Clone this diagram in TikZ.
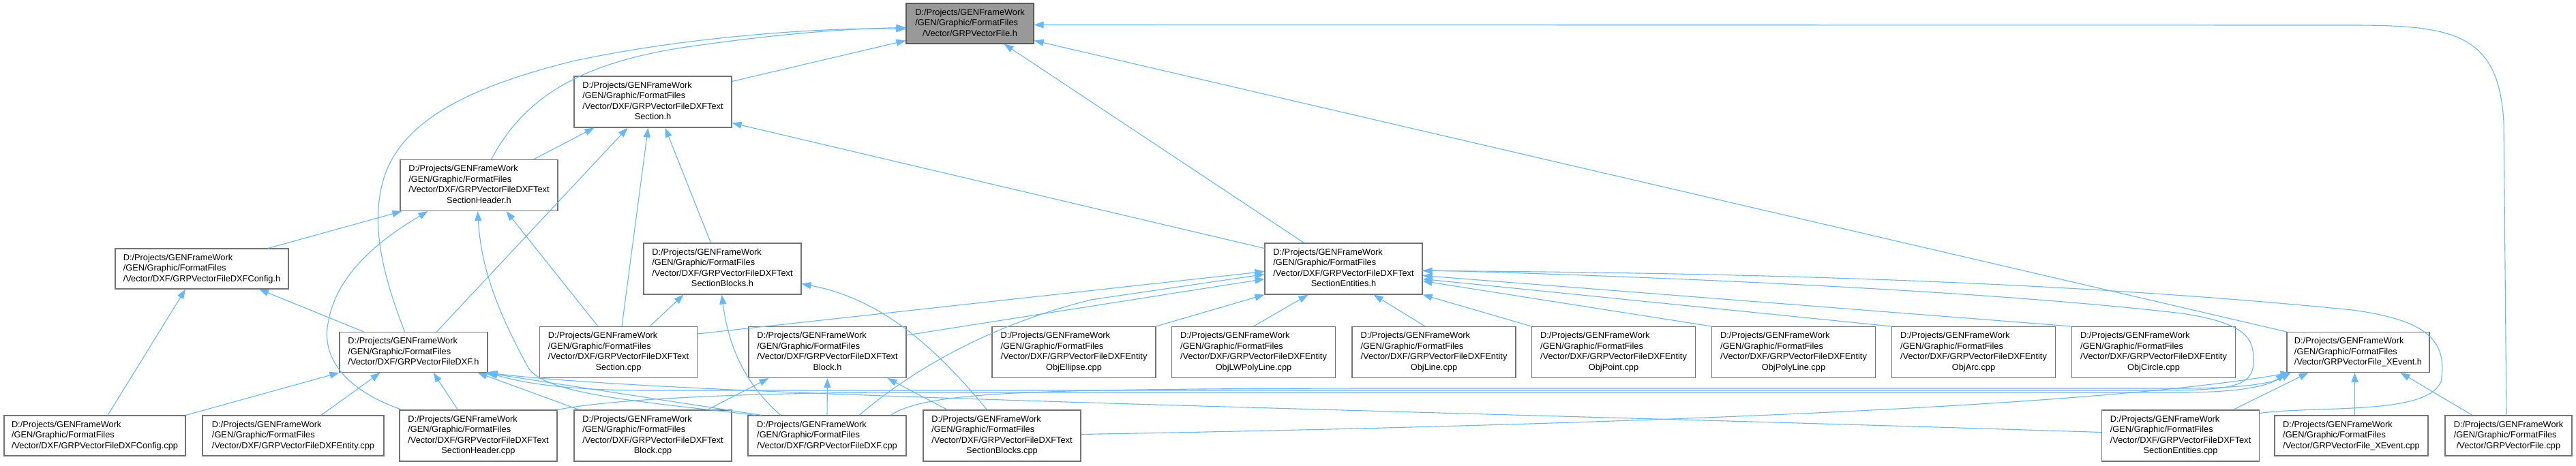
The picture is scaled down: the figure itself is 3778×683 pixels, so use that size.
\documentclass[tikz,border=0pt]{standalone}
\usepackage{fontspec}
\setmainfont{Liberation Sans}
\usetikzlibrary{arrows.meta}
\definecolor{edgeblue}{HTML}{63B8FF}
% labels: lines left aligned, last line centred where doxygen centres it
\newcommand{\threeln}[3]{\begin{tabular}{@{}l@{}}#1\\#2\\#3\end{tabular}}
\newcommand{\threec}[3]{\begin{tabular}{@{}l@{}}#1\\#2\\\multicolumn{1}{@{}c@{}}{#3}\end{tabular}}
\newcommand{\fourln}[4]{\begin{tabular}{@{}l@{}}#1\\#2\\#3\\\multicolumn{1}{@{}c@{}}{#4}\end{tabular}}

\begin{document}
\begin{tikzpicture}[x=1pt, y=-1pt,
    box/.style={draw=black!55, line width=1.1pt, fill=white, inner sep=0pt, minimum height=59, font=\fontsize{12.8}{15.5}\selectfont},
    tbox/.style={box, minimum width=231, minimum height=75},
    ebox/.style={box, minimum width=240, minimum height=75},
    rootbox/.style={box, fill=black!40, draw=black!65, minimum width=187},
    dep/.style={draw=edgeblue, line width=1.1pt, -{Triangle[length=14pt,width=10pt]}}
]
\path[use as bounding box, fill=white] (0,0) rectangle (3778,683);

% headers
\node[rootbox] (vfh) at (1422.5,34.5) {\threec{D:/Projects/GENFrameWork}{/GEN/Graphic/FormatFiles}{/Vector/GRPVectorFile.h}};
\node[tbox] (secth) at (957.5,149.5) {\fourln{D:/Projects/GENFrameWork}{/GEN/Graphic/FormatFiles}{/Vector/DXF/GRPVectorFileDXFText}{Section.h}};
\node[tbox] (hdrh) at (702.5,272) {\fourln{D:/Projects/GENFrameWork}{/GEN/Graphic/FormatFiles}{/Vector/DXF/GRPVectorFileDXFText}{SectionHeader.h}};
\node[box, minimum width=254] (cfgh) at (296,394.5) {\threeln{D:/Projects/GENFrameWork}{/GEN/Graphic/FormatFiles}{/Vector/DXF/GRPVectorFileDXFConfig.h}};
\node[tbox] (blksh) at (1059.5,394.5) {\fourln{D:/Projects/GENFrameWork}{/GEN/Graphic/FormatFiles}{/Vector/DXF/GRPVectorFileDXFText}{SectionBlocks.h}};
\node[tbox] (entsh) at (1970.5,394.5) {\fourln{D:/Projects/GENFrameWork}{/GEN/Graphic/FormatFiles}{/Vector/DXF/GRPVectorFileDXFText}{SectionEntities.h}};
\node[box, minimum width=217] (dxfh) at (606.5,517) {\threeln{D:/Projects/GENFrameWork}{/GEN/Graphic/FormatFiles}{/Vector/DXF/GRPVectorFileDXF.h}};
\node[tbox] (sectcpp) at (907,517) {\fourln{D:/Projects/GENFrameWork}{/GEN/Graphic/FormatFiles}{/Vector/DXF/GRPVectorFileDXFText}{Section.cpp}};
\node[tbox] (blkh) at (1213.5,517) {\fourln{D:/Projects/GENFrameWork}{/GEN/Graphic/FormatFiles}{/Vector/DXF/GRPVectorFileDXFText}{Block.h}};
\node[box, minimum width=209] (xevh) at (3458.5,517) {\threeln{D:/Projects/GENFrameWork}{/GEN/Graphic/FormatFiles}{/Vector/GRPVectorFile\_XEvent.h}};

% entity objects
\node[ebox] (objell) at (1575,517) {\fourln{D:/Projects/GENFrameWork}{/GEN/Graphic/FormatFiles}{/Vector/DXF/GRPVectorFileDXFEntity}{ObjEllipse.cpp}};
\node[ebox] (objlwp) at (1838.5,517) {\fourln{D:/Projects/GENFrameWork}{/GEN/Graphic/FormatFiles}{/Vector/DXF/GRPVectorFileDXFEntity}{ObjLWPolyLine.cpp}};
\node[ebox] (objlin) at (2103,517) {\fourln{D:/Projects/GENFrameWork}{/GEN/Graphic/FormatFiles}{/Vector/DXF/GRPVectorFileDXFEntity}{ObjLine.cpp}};
\node[ebox] (objpnt) at (2366.5,517) {\fourln{D:/Projects/GENFrameWork}{/GEN/Graphic/FormatFiles}{/Vector/DXF/GRPVectorFileDXFEntity}{ObjPoint.cpp}};
\node[ebox] (objply) at (2630.5,517) {\fourln{D:/Projects/GENFrameWork}{/GEN/Graphic/FormatFiles}{/Vector/DXF/GRPVectorFileDXFEntity}{ObjPolyLine.cpp}};
\node[ebox] (objarc) at (2894.5,517) {\fourln{D:/Projects/GENFrameWork}{/GEN/Graphic/FormatFiles}{/Vector/DXF/GRPVectorFileDXFEntity}{ObjArc.cpp}};
\node[ebox] (objcir) at (3158.5,517) {\fourln{D:/Projects/GENFrameWork}{/GEN/Graphic/FormatFiles}{/Vector/DXF/GRPVectorFileDXFEntity}{ObjCircle.cpp}};

% sources
\node[box, minimum width=266] (cfgcpp) at (139,639.5) {\threeln{D:/Projects/GENFrameWork}{/GEN/Graphic/FormatFiles}{/Vector/DXF/GRPVectorFileDXFConfig.cpp}};
\node[box, minimum width=266] (entcpp) at (430,639.5) {\threeln{D:/Projects/GENFrameWork}{/GEN/Graphic/FormatFiles}{/Vector/DXF/GRPVectorFileDXFEntity.cpp}};
\node[tbox] (hdrcpp) at (701.5,639.5) {\fourln{D:/Projects/GENFrameWork}{/GEN/Graphic/FormatFiles}{/Vector/DXF/GRPVectorFileDXFText}{SectionHeader.cpp}};
\node[tbox] (blkcpp) at (957.5,639.5) {\fourln{D:/Projects/GENFrameWork}{/GEN/Graphic/FormatFiles}{/Vector/DXF/GRPVectorFileDXFText}{Block.cpp}};
\node[box, minimum width=232] (dxfcpp) at (1213,639.5) {\threeln{D:/Projects/GENFrameWork}{/GEN/Graphic/FormatFiles}{/Vector/DXF/GRPVectorFileDXF.cpp}};
\node[tbox] (blkscpp) at (1469.5,639.5) {\fourln{D:/Projects/GENFrameWork}{/GEN/Graphic/FormatFiles}{/Vector/DXF/GRPVectorFileDXFText}{SectionBlocks.cpp}};
\node[tbox] (entscpp) at (3198,639.5) {\fourln{D:/Projects/GENFrameWork}{/GEN/Graphic/FormatFiles}{/Vector/DXF/GRPVectorFileDXFText}{SectionEntities.cpp}};
\node[box, minimum width=225] (xevcpp) at (3448.5,639.5) {\threeln{D:/Projects/GENFrameWork}{/GEN/Graphic/FormatFiles}{/Vector/GRPVectorFile\_XEvent.cpp}};
\node[box, minimum width=186] (vfcpp) at (3679,639.5) {\threec{D:/Projects/GENFrameWork}{/GEN/Graphic/FormatFiles}{/Vector/GRPVectorFile.cpp}};

% into GRPVectorFile.h
\draw[dep] ([yshift=30]secth.east) -- ([yshift=-25]vfh.west);
\draw[dep] ([xshift=18]hdrh.north) .. controls (765,150) and (840,95) .. (1000,70) .. controls (1150,48) and (1250,42) .. ([yshift=-6]vfh.west);
\draw[dep] ([xshift=-13]dxfh.north) .. controls (560,400) and (540,320) .. (567,250) .. controls (600,170) and (700,125) .. (839,90) .. controls (1000,55) and (1200,40) .. ([yshift=-8]vfh.west);
\draw[dep] ([xshift=-58]entsh.north) -- ([xshift=50]vfh.south);
\draw[dep] (xevh.north west) -- ([yshift=-25]vfh.east);
\draw[dep] ([xshift=-3]vfcpp.north) -- (3672,180) .. controls (3665,50) and (3600,37) .. (3450,37) -- ([yshift=-2]vfh.east);

% into TextSection.h
\draw[dep] ([xshift=80]hdrh.north) -- ([xshift=-86]secth.south);
\draw[dep] ([xshift=34]dxfh.north) -- ([xshift=-37]secth.south);
\draw[dep] ([xshift=5]sectcpp.north) -- ([xshift=-7]secth.south);
\draw[dep] ([xshift=-17]blksh.north) -- ([xshift=18]secth.south);
\draw[dep] ([yshift=30]entsh.west) -- ([yshift=-31]secth.east);

% into TextSectionHeader.h
\draw[dep] ([xshift=97]cfgh.north) -- ([xshift=3]hdrh.south west);
\draw[dep] ([xshift=4]hdrcpp.north west) .. controls (500,570) and (470,520) .. (482,470) .. controls (495,400) and (560,350) .. ([xshift=-75]hdrh.south);
\draw[dep] ([xshift=-30]sectcpp.north) -- ([xshift=40]hdrh.south);
\draw[dep] ([xshift=-105]dxfcpp.north) .. controls (950,590) and (800,580) .. (775,540) .. controls (720,440) and (705,380) .. ([xshift=-2]hdrh.south);

% into DXFConfig.h
\draw[dep] ([xshift=19]cfgcpp.north) -- ([xshift=-24]cfgh.south);
\draw[dep] ([xshift=-73]dxfh.north) -- ([xshift=84]cfgh.south);

% into TextSectionBlocks.h
\draw[dep] ([xshift=46]sectcpp.north) -- ([xshift=-57]blksh.south);
\draw[dep] ([xshift=-68]dxfcpp.north) .. controls (1100,570) and (1070,520) .. ([xshift=-1]blksh.south);
\draw[dep] ([xshift=-22]blkscpp.north) .. controls (1380,520) and (1300,440) .. ([yshift=-22]blksh.east);

% into TextBlock.h
\draw[dep] ([xshift=80]blkcpp.north) -- ([xshift=-86]blkh.south);
\draw[dep] (dxfcpp.north) -- (blkh.south);
\draw[dep] ([xshift=-80]blkscpp.north) -- ([xshift=88]blkh.south);

% into TextSectionEntities.h
\draw[dep] ([yshift=27]sectcpp.east) -- ([yshift=-4]entsh.west);
\draw[dep] ([yshift=25]blkh.east) -- ([yshift=-15]entsh.west);
\draw[dep] ([xshift=47]dxfcpp.north) .. controls (1330,550) and (1440,480) .. (1600,440) -- ([yshift=-8]entsh.west);
\draw[dep] (objell.north east) -- (entsh.south west);
\draw[dep] (objlwp.north) -- ([xshift=-52]entsh.south);
\draw[dep] ([xshift=-13]objlin.north) -- ([xshift=44]entsh.south);
\draw[dep] (objpnt.north west) -- (entsh.south east);
\draw[dep] (objply.north west) -- ([yshift=-18]entsh.east);
\draw[dep] (objarc.north west) -- ([yshift=-15]entsh.east);
\draw[dep] (objcir.north west) -- ([yshift=-10]entsh.east);
\draw[dep] ([yshift=33]entscpp.east) .. controls (3400,595) and (3560,610) .. (3580,560) .. controls (3590,500) and (3560,470) .. (3450,455) .. controls (3000,410) and (2500,400) .. ([yshift=-3]entsh.east);

% into GRPVectorFileDXF.h
\draw[dep] (cfgcpp.north east) -- (dxfh.south west);
\draw[dep] ([xshift=41]entcpp.north) -- ([xshift=-49]dxfh.south);
\draw[dep] ([xshift=-30]hdrcpp.north) -- ([xshift=29]dxfh.south);
\draw[dep] ([xshift=-108]blkcpp.north) -- ([xshift=-15]dxfh.south east);
\draw[dep] ([xshift=-96]dxfcpp.north) -- ([xshift=-4]dxfh.south east);
\draw[dep] ([yshift=5]entscpp.west) .. controls (2000,600) and (1000,582) .. (dxfh.south east);
\draw[dep] ([yshift=-2]entsh.east) .. controls (2400,405) and (2900,425) .. (3200,460) .. controls (3300,475) and (3305,500) .. (3305,530) .. controls (3305,570) and (3270,573) .. (3150,573) -- (950,573) .. controls (820,573) and (760,560) .. (dxfh.south east);

% into GRPVectorFile_XEvent.h
\draw[dep] (hdrcpp.north east) .. controls (900,585) and (1100,577) .. (1300,576) -- (3200,576) .. controls (3290,576) and (3330,565) .. ([xshift=-2]xevh.south west);
\draw[dep] ([xshift=93]dxfcpp.north) .. controls (1360,575) and (1500,571) .. (2000,570) -- (3200,570) .. controls (3290,570) and (3335,562) .. ([xshift=6]xevh.south west);
\draw[dep] ([yshift=2]blkscpp.east) .. controls (2000,630) and (3000,610) .. ([xshift=-100]xevh.south);
\draw[dep] ([xshift=77]entscpp.north) -- ([xshift=-73]xevh.south);
\draw[dep] ([xshift=5]xevcpp.north) -- ([xshift=-5]xevh.south);
\draw[dep] ([xshift=-53]vfcpp.north) -- ([xshift=62]xevh.south);
\end{tikzpicture}
\end{document}
